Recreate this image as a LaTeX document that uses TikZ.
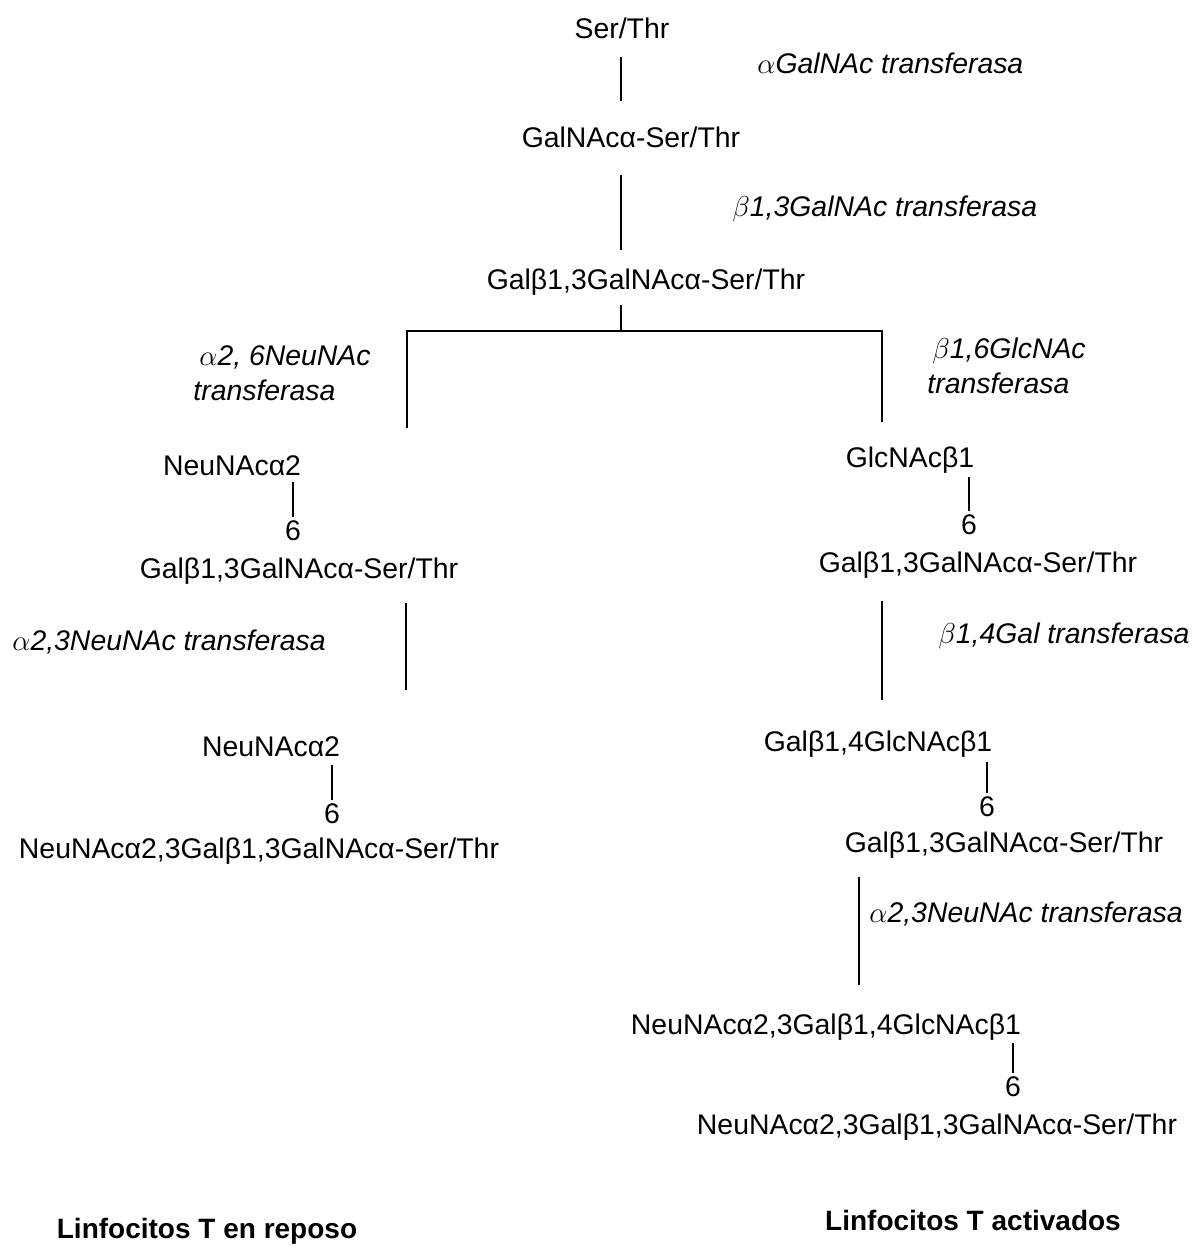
\documentclass[tikz,border=0pt]{standalone}
\usepackage{fontspec}
\setmainfont{Liberation Sans}
\begin{document}
\begin{tikzpicture}[x=0.5pt,y=-0.5pt,
  txt/.style={inner sep=0pt, anchor=base, font=\fontsize{14.2}{16}\selectfont},
  enz/.style={inner sep=0pt, anchor=base west, font=\fontsize{14.2}{16}\selectfont\itshape},
  ttl/.style={inner sep=0pt, anchor=base, font=\fontsize{14}{16}\selectfont\bfseries},
  bond/.style={line width=0.7pt}]
\useasboundingbox (0,0) rectangle (1191,1248);
% main trunk
\node[txt] (s0) at (622,38) {Ser/Thr};
\node[enz] (e1) at (757,73) {$\alpha$GalNAc transferasa};
\node[txt] (s1) at (631,147) {GalNAcα-Ser/Thr};
\node[enz] (e2) at (732,216) {$\beta$1,3GalNAc transferasa};
\node[txt] (s2) at (646,289) {Galβ1,3GalNAcα-Ser/Thr};
\node[enz] (e3a) at (199,365) {$\alpha$2, 6NeuNAc};
\node[enz] (e3b) at (193,400) {transferasa};
\node[enz] (e4a) at (932,358) {$\beta$1,6GlcNAc};
\node[enz] (e4b) at (927,393) {transferasa};
% left branch
\node[txt] (L1) at (232,475) {NeuNAcα2};
\node[txt] (L1n) at (293,540) {6};
\node[txt] (L2) at (299,578) {Galβ1,3GalNAcα-Ser/Thr};
\node[enz] (e5) at (12,650) {$\alpha$2,3NeuNAc transferasa};
\node[txt] (L3) at (271,756) {NeuNAcα2};
\node[txt] (L3n) at (332,823) {6};
\node[txt] (L4) at (259,858) {NeuNAcα2,3Galβ1,3GalNAcα-Ser/Thr};
% right branch
\node[txt] (R1) at (910,467) {GlcNAcβ1};
\node[txt] (R1n) at (969,534) {6};
\node[txt] (R2) at (978,572) {Galβ1,3GalNAcα-Ser/Thr};
\node[enz] (e6) at (938,643) {$\beta$1,4Gal transferasa};
\node[txt] (R3) at (878,751) {Galβ1,4GlcNAcβ1};
\node[txt] (R3n) at (987,816) {6};
\node[txt] (R4) at (1004,852) {Galβ1,3GalNAcα-Ser/Thr};
\node[enz] (e7) at (869,922) {$\alpha$2,3NeuNAc transferasa};
\node[txt] (R5) at (826,1034) {NeuNAcα2,3Galβ1,4GlcNAcβ1};
\node[txt] (R5n) at (1013,1096) {6};
\node[txt] (R6) at (937,1134) {NeuNAcα2,3Galβ1,3GalNAcα-Ser/Thr};
% titles
\node[ttl] (B1) at (207,1238) {Linfocitos T en reposo};
\node[ttl] (B2) at (973,1230) {Linfocitos T activados};
% connector coordinates
\coordinate (a1) at (621,57);  \coordinate (a2) at (621,101);
\coordinate (b1) at (621,175); \coordinate (b2) at (621,250);
\coordinate (c1) at (621,305); \coordinate (c2) at (621,331);
\coordinate (hl) at (407,331); \coordinate (hr) at (882,331);
\coordinate (dl) at (407,428); \coordinate (dr) at (882,422);
\coordinate (f1) at (406,603); \coordinate (f2) at (406,690);
\coordinate (g1) at (882,601); \coordinate (g2) at (882,700);
\coordinate (h1) at (859,877); \coordinate (h2) at (859,985);
\coordinate (k1) at (293,482);
\coordinate (k2) at (332,765);
\coordinate (k3) at (969,477);
\coordinate (k4) at (987,762);
\coordinate (k5) at (1013,1043);
\draw[bond] (a1) -- (a2);
\draw[bond] (b1) -- (b2);
\draw[bond] (c1) -- (c2);
\draw[bond] (dl) -- (hl) -- (hr) -- (dr);
\draw[bond] (f1) -- (f2);
\draw[bond] (g1) -- (g2);
\draw[bond] (h1) -- (h2);
% glycosidic bonds to the "6"
\draw[bond] (k1) -- ([yshift=1.5pt]L1n.north);
\draw[bond] (k2) -- ([yshift=1.5pt]L3n.north);
\draw[bond] (k3) -- ([yshift=1.5pt]R1n.north);
\draw[bond] (k4) -- ([yshift=1.5pt]R3n.north);
\draw[bond] (k5) -- ([yshift=1.5pt]R5n.north);
\end{tikzpicture}
\end{document}
